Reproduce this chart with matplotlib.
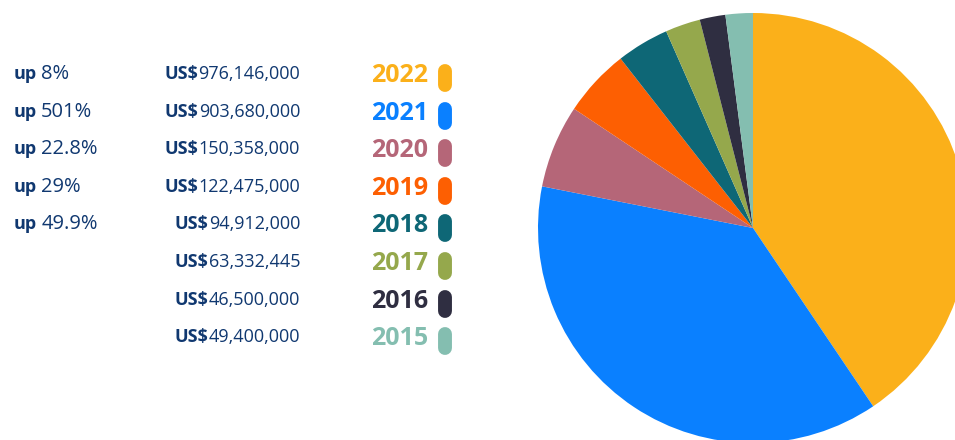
import matplotlib.pyplot as plt
from matplotlib.lines import Line2D

# ------------------------------- data ---------------------------------------
years = ['2022', '2021', '2020', '2019', '2018', '2017', '2016', '2015']
amounts = [976146000, 903680000, 150358000, 122475000, 94912000,
           63332445, 46500000, 49400000]
growth = ['8%', '501%', '22.8%', '29%', '49.9%', None, None, None]
colors = ['#fbb01a', '#0a80ff', '#b56678', '#fd5f02', '#0e6776',
          '#95a84c', '#2f2e41', '#84beb0']

navy = '#103870'
plt.rcParams['font.family'] = ['Open Sans', 'DejaVu Sans']

W, H = 955, 440
fig = plt.figure(figsize=(W / 100, H / 100), dpi=100)


def fx(px):
    return px / W


def fy(py):
    return 1 - py / H


# ------------------------------- pie ----------------------------------------
cx, cy, r = 753, 228, 215
ax = fig.add_axes([fx(cx - r), fy(cy + r), 2 * r / W, 2 * r / H])
ax.pie(amounts, colors=colors, startangle=90, counterclock=False,
       wedgeprops=dict(linewidth=0))
ax.set_xlim(-1, 1)
ax.set_ylim(-1, 1)
ax.axis('off')

# ------------------------------- legend text --------------------------------
renderer = fig.canvas.get_renderer()
step = 37.6
for i, (yr, amt, g, c) in enumerate(zip(years, amounts, growth, colors)):
    base = fy(79 + i * step)
    if g is not None:
        t = fig.text(fx(14), base, 'up', fontsize=13, fontweight='bold',
                     color=navy, va='baseline', ha='left')
        bb = t.get_window_extent(renderer)
        fig.text(bb.x1 / W + fx(4), base, g, fontsize=14.5, color=navy,
                 va='baseline', ha='left')
    num = fig.text(fx(300), base, f'{amt:,}', fontsize=13, color=navy,
                   va='baseline', ha='right')
    bb = num.get_window_extent(renderer)
    fig.text(bb.x0 / W, base, 'US$', fontsize=13, fontweight='bold',
             color=navy, va='baseline', ha='right')
    fig.text(fx(428), fy(82 + i * step), yr, fontsize=18, fontweight='bold',
             color=c, va='baseline', ha='right')
    pc = fy(78 + i * step)
    fig.add_artist(Line2D([fx(445), fx(445)], [pc - 7 / H, pc + 7 / H],
                          transform=fig.transFigure, color=c, linewidth=10,
                          solid_capstyle='round'))

fig.savefig('out.png', dpi=100)
